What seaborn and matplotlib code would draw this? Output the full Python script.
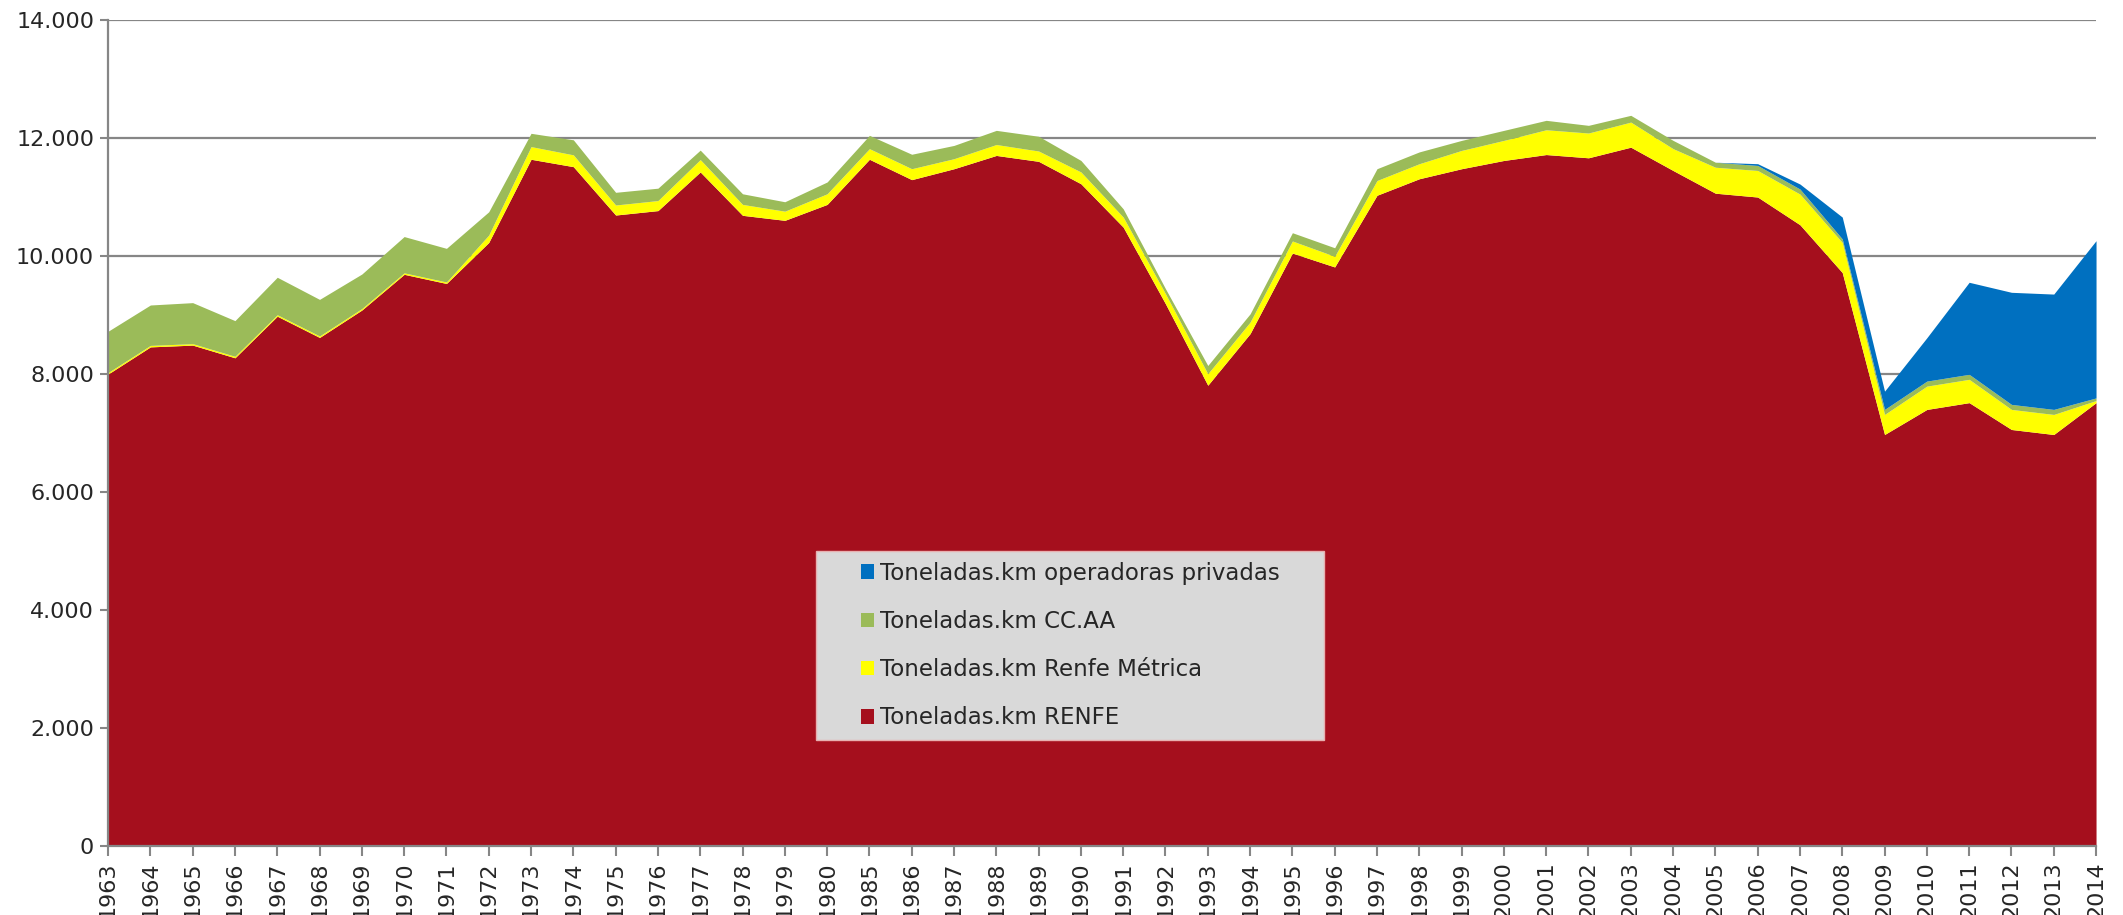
import numpy as np
import pandas as pd
import matplotlib
matplotlib.use("Agg")
import matplotlib.pyplot as plt
import seaborn as sns
from matplotlib.ticker import FuncFormatter, MultipleLocator
from matplotlib.patches import Patch, Rectangle

years = [1963, 1964, 1965, 1966, 1967, 1968, 1969, 1970, 1971, 1972, 1973, 1974,
         1975, 1976, 1977, 1978, 1979, 1980, 1985, 1986, 1987, 1988, 1989, 1990,
         1991, 1992, 1993, 1994, 1995, 1996, 1997, 1998, 1999, 2000, 2001, 2002,
         2003, 2004, 2005, 2006, 2007, 2008, 2009, 2010, 2011, 2012, 2013, 2014]

renfe = [8000, 8460, 8490, 8275, 8980, 8620, 9085, 9690, 9535, 10230, 11640, 11515,
         10695, 10770, 11425, 10690, 10605, 10875, 11640, 11295, 11480, 11705, 11605, 11225,
         10490, 9190, 7810, 8685, 10050, 9815, 11030, 11310, 11480, 11620, 11720, 11665,
         11845, 11450, 11065, 11000, 10530, 9720, 6975, 7400, 7515, 7060, 6975, 7515]

metrica = [25, 25, 25, 25, 25, 25, 25, 25, 25, 125, 215, 200,
           170, 170, 210, 185, 155, 180, 180, 185, 170, 185, 175, 200,
           170, 170, 195, 195, 205, 180, 250, 255, 310, 340, 420, 420,
           425, 370, 440, 450, 520, 510, 340, 395, 395, 340, 340, 35]

ccaa = [700, 685, 695, 605, 635, 620, 585, 615, 570, 395, 225, 255,
        215, 210, 160, 180, 160, 200, 225, 245, 225, 240, 250, 195,
        140, 85, 140, 140, 140, 145, 200, 200, 170, 170, 160, 130,
        115, 140, 85, 85, 85, 60, 85, 85, 85, 85, 85, 45]

privadas = [0, 0, 0, 0, 0, 0, 0, 0, 0, 0, 0, 0,
            0, 0, 0, 0, 0, 0, 0, 0, 0, 0, 0, 0,
            0, 0, 0, 0, 0, 0, 0, 0, 0, 0, 0, 0,
            0, 0, 0, 30, 85, 370, 310, 735, 1560, 1900, 1955, 2665]

labels = ["Toneladas.km RENFE", "Toneladas.km Renfe Métrica",
          "Toneladas.km CC.AA", "Toneladas.km operadoras privadas"]
colors = ["#A50F1D", "#FFFF00", "#9BBB59", "#0070C0"]

sns.set_theme(style="white")
plt.rcParams['font.family'] = ['DejaVu Sans']

fig = plt.figure(figsize=(21.23, 9.15), dpi=100)
ax = fig.add_axes([0.0509, 0.0754, 0.9364, 0.9027])

x = np.arange(len(years))
ax.stackplot(x, renfe, metrica, ccaa, privadas, colors=colors, labels=labels,
             linewidth=0, zorder=2)

ax.set_xlim(0, len(years) - 1)
ax.set_ylim(0, 14000)
ax.yaxis.set_major_locator(MultipleLocator(2000))
ax.yaxis.set_major_formatter(FuncFormatter(lambda v, p: f"{int(v):,}".replace(",", ".")))
ax.set_xticks(x)
ax.set_xticklabels([str(y) for y in years], rotation=90, fontsize=16)
ax.tick_params(axis='y', labelsize=16, length=6, width=1.5, color="#868686", direction="out", left=True, pad=4)
ax.tick_params(axis='x', length=7, width=1.5, color="#868686", direction="out", bottom=True, pad=4)
ax.grid(axis='y', color="#868686", linewidth=1.6, zorder=0)
ax.grid(axis='x', visible=False)
ax.set_axisbelow(True)
sns.despine(ax=ax, top=True, right=True)
for s in ["left", "bottom"]:
    ax.spines[s].set_color("#868686")
    ax.spines[s].set_linewidth(1.6)
    ax.spines[s].set_zorder(3)

# legend box
box = Rectangle((0.3563, 0.1279), 0.2554, 0.2295, transform=ax.transAxes,
                facecolor="#D9D9D9", edgecolor="#E8B0B0", linewidth=1.0, zorder=4)
ax.add_patch(box)

handles = [Patch(facecolor=c, edgecolor='none') for c in colors]
leg = ax.legend(handles[::-1], labels[::-1], loc="center",
                bbox_to_anchor=(0.484, 0.2426),
                fontsize=16.5, frameon=False,
                handlelength=0.6, handleheight=0.6, handletextpad=0.25,
                labelspacing=1.1, borderpad=0, borderaxespad=0)
leg.set_zorder(5)

fig.savefig("out.png", dpi=100)
